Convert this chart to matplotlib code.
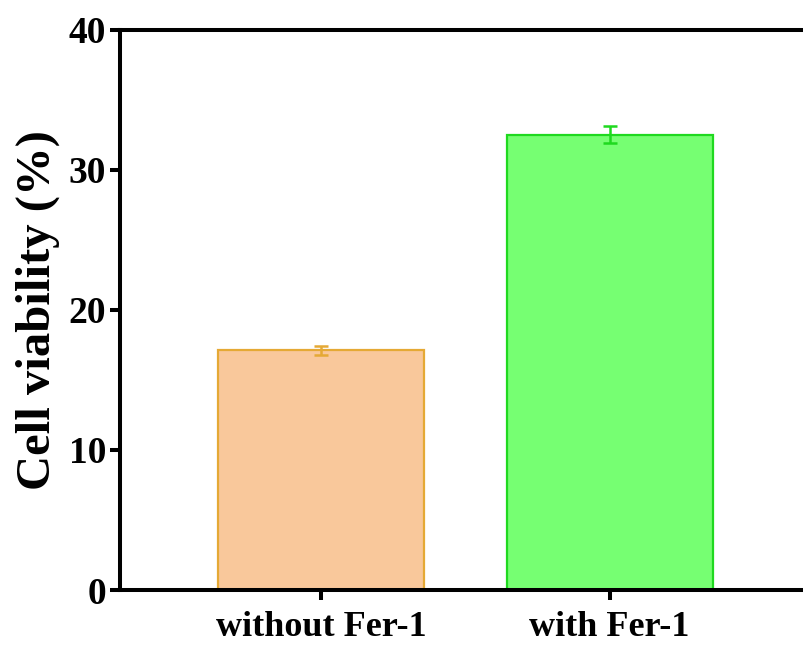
import matplotlib
matplotlib.use("Agg")
import matplotlib.pyplot as plt

groups = ["without Fer-1", "with Fer-1"]
viability = [17.1, 32.5]
sd = [0.3, 0.6]
fill_colors = ["#F9C89B", "#76FF72"]
edge_colors = ["#E5A935", "#1FD91F"]
yticks = [0, 10, 20, 30, 40]

plt.rcParams["font.family"] = ["Liberation Serif", "DejaVu Serif"]
plt.rcParams["font.weight"] = "bold"

fig = plt.figure(figsize=(8.04, 6.5), dpi=100)
ax = fig.add_axes([0.149, 0.0923, 0.878, 0.862])

x = range(len(groups))
ax.bar(x, viability, width=0.715, color=fill_colors, edgecolor=edge_colors,
       linewidth=1.6, zorder=2)
for xi, v, e, c in zip(x, viability, sd, edge_colors):
    ax.errorbar(xi, v, yerr=e, fmt="none", ecolor=c, elinewidth=1.8,
                capsize=4.8, capthick=1.8, zorder=3)

ax.set_xlim(-0.70, 1.75)
ax.set_ylim(0, 40)
ax.set_yticks(yticks)
ax.set_xticks(list(x))
ax.set_xticklabels(groups, fontsize=26, fontweight="bold")
ax.tick_params(axis="y", labelsize=27, width=2.9, length=7, direction="out", pad=3)
ax.tick_params(axis="x", width=2.9, length=7, direction="out", pad=8)
for lab in ax.get_yticklabels():
    lab.set_fontweight("bold")
for s in ax.spines.values():
    s.set_linewidth(2.9)
# the frame runs off the right edge of the picture
ax.spines["right"].set_visible(False)

ax.set_ylabel("Cell viability (%)", fontsize=35, fontweight="bold", labelpad=6)

fig.savefig("out.png", dpi=100)
